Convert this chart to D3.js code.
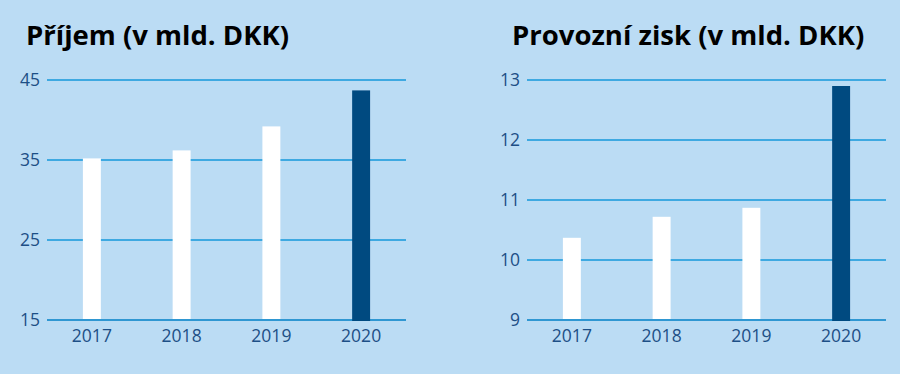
<!DOCTYPE html>
<html lang="cs">
<head>
  <meta charset="UTF-8">
  <title>Příjem a provozní zisk</title>
  <script src="https://d3js.org/d3.v7.min.js"></script>
  <style>
    html, body {
      margin: 0;
      padding: 0;
      background: #bbdcf4;
    }
    svg {
      display: block;
    }
    .title {
      font-family: "Open Sans", sans-serif;
      font-weight: 700;
      font-size: 27.5px;
      fill: #000;
    }
    .tick text {
      font-family: "Open Sans", sans-serif;
      font-size: 17.5px;
      fill: #1d4f86;
    }
  </style>
</head>
<body>
  <svg id="chart" width="900" height="374"></svg>

  <script>
    // Data
    const years = ["2017", "2018", "2019", "2020"];
    const revenue = [35.2, 36.2, 39.2, 43.7];
    const operatingProfit = [10.37, 10.72, 10.87, 12.9];
    const revenueTicks = [15, 25, 35, 45];
    const profitTicks = [9, 10, 11, 12, 13];

    const svg = d3.select("#chart");

    const panels = [
      { title: "Příjem (v mld. DKK)", values: revenue, ticks: revenueTicks,
        x0: 47, x1: 406, titleX: 26 },
      { title: "Provozní zisk (v mld. DKK)", values: operatingProfit, ticks: profitTicks,
        x0: 527, x1: 886, titleX: 512 }
    ];

    const plotTop = 80, plotBottom = 320;

    panels.forEach(p => {
      const g = svg.append("g");

      const x = d3.scaleBand()
        .domain(years)
        .range([p.x0, p.x1])
        .paddingInner(0.8)
        .paddingOuter(0.4);

      const y = d3.scaleLinear()
        .domain(d3.extent(p.ticks))
        .range([plotBottom, plotTop]);

      // title
      g.append("text")
        .attr("class", "title")
        .attr("x", p.titleX)
        .attr("y", 45)
        .text(p.title);

      // gridlines + y labels
      const yAxis = g.append("g")
        .attr("transform", `translate(${p.x0},0)`)
        .call(d3.axisLeft(y).tickValues(p.ticks).tickSize(-(p.x1 - p.x0)).tickPadding(7).tickFormat(d3.format("d")));
      yAxis.select(".domain").remove();
      yAxis.selectAll(".tick").attr("transform", d => `translate(0,${y(d)})`);
      yAxis.selectAll(".tick line")
        .attr("stroke", d => d === p.ticks[0] ? "#2f97d2" : "#3ea9e1")
        .attr("stroke-width", 2);

      // bars
      g.selectAll("rect")
        .data(p.values)
        .enter().append("rect")
        .attr("x", (d, i) => x(years[i]))
        .attr("width", x.bandwidth())
        .attr("y", d => y(d))
        .attr("height", (d, i) => y(p.ticks[0]) - y(d) - (i === years.length - 1 ? -1 : 1))
        .attr("fill", (d, i) => i === years.length - 1 ? "#004a80" : "#ffffff");

      // x labels
      const xAxis = g.append("g")
        .attr("transform", `translate(0,${plotBottom})`)
        .call(d3.axisBottom(x).tickSize(0).tickPadding(10));
      xAxis.select(".domain").remove();
    });
  </script>
</body>
</html>
